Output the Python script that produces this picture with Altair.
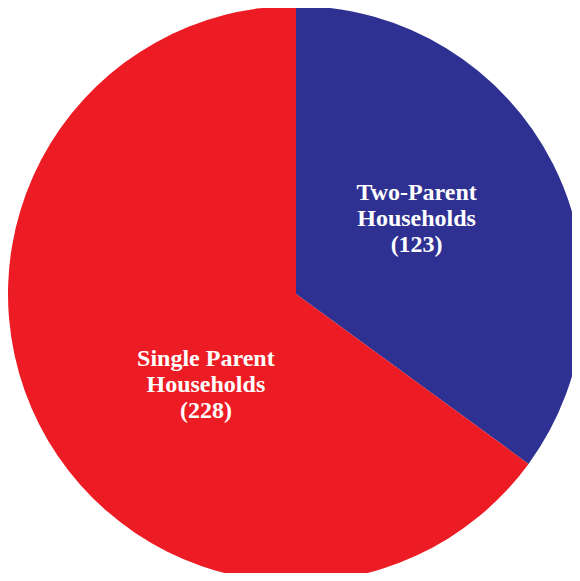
import altair as alt
import pandas as pd

categories = ["Two-Parent Households", "Single Parent Households"]
values = [123, 228]
label_lines = [["Two-Parent", "Households", "(123)"], ["Single Parent", "Households", "(228)"]]
colors = ["#2E3192", "#ED1C24"]

df = pd.DataFrame({
    "category": categories,
    "value": values,
    "order": list(range(len(categories))),
    "label": label_lines,
})

CX, CY, R = 288, 286, 288

base = alt.Chart(df)

pie = base.mark_arc(outerRadius=R, stroke=None).encode(
    x=alt.value(CX), y=alt.value(CY),
    theta=alt.Theta("value:Q", stack=True),
    color=alt.Color("category:N", scale=alt.Scale(domain=categories, range=colors), legend=None),
    order=alt.Order("order:Q"),
)

def label_layer(cat, radius, dx, dy):
    return (
        base.transform_joinaggregate(total="sum(value)")
        .transform_window(cum="sum(value)", sort=[alt.SortField("order")])
        .transform_calculate(mid="(datum.cum - datum.value/2) / datum.total * 2 * PI")
        .transform_filter(alt.datum.category == cat)
        .mark_text(
            radius=radius, dx=dx, dy=dy, font="Liberation Serif", fontSize=24,
            fontWeight="bold", color="white", align="center", baseline="middle",
            lineHeight=26,
        )
        .encode(x=alt.value(CX), y=alt.value(CY),
                theta=alt.Theta("mid:Q", scale=None), text="label")
    )

chart = alt.layer(
    pie,
    label_layer(categories[0], 142, -6, -37),
    label_layer(categories[1], 128, 24, 7),
).properties(
    width=564, height=565, padding=0, autosize=alt.AutoSizeParams(type="none")
).configure_view(stroke=None)

chart.save("out.html", embed_options={"renderer": "svg", "actions": False})
